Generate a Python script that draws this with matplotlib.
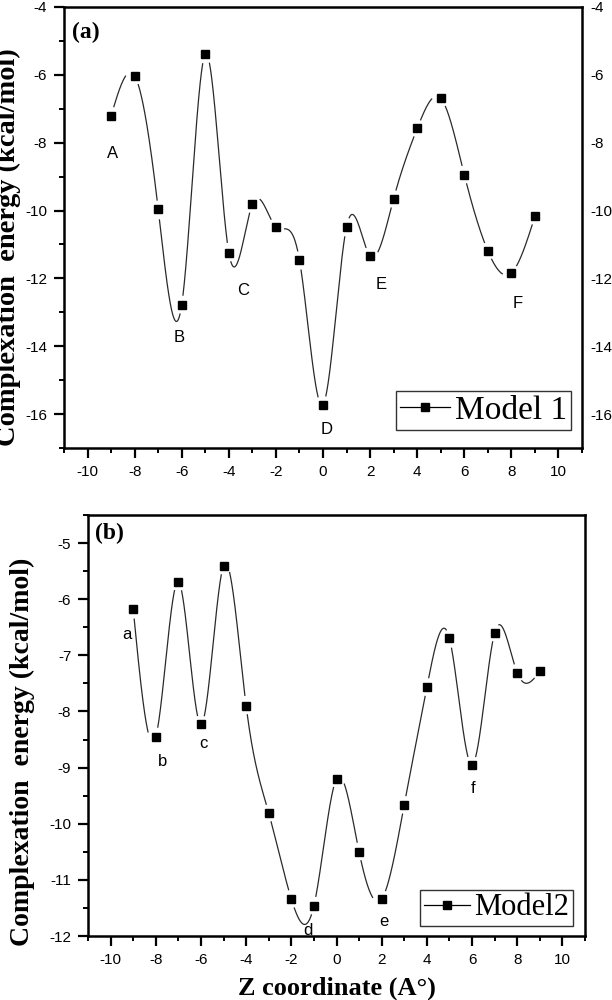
import numpy as np
import matplotlib
matplotlib.use("Agg")
import matplotlib.pyplot as plt
from matplotlib import font_manager
from matplotlib.ticker import MultipleLocator

# -----------------------------
# Data
# -----------------------------
z = [-9, -8, -7, -6, -5, -4, -3, -2, -1, 0, 1, 2, 3, 4, 5, 6, 7, 8, 9]

model1 = [-7.21, -6.03, -9.96, -12.77, -5.39, -11.24, -9.81, -10.48, -11.46,
          -15.72, -10.48, -11.34, -9.65, -7.58, -6.69, -8.94, -11.19, -11.84, -10.17]

model2 = [-6.17, -8.45, -5.69, -8.23, -5.40, -7.90, -9.81, -11.34, -11.46,
          -9.20, -10.50, -11.34, -9.66, -7.57, -6.70, -8.95, -6.60, -7.31, -7.28]

labels1 = ["A", "B", "C", "D", "E", "F"]
label1_x = [-8.92, -6.09, -3.4, 0.17, 2.46, 8.26]
label1_y = [-8.32, -13.73, -12.35, -16.44, -12.17, -12.74]

labels2 = ["a", "b", "c", "d", "e", "f"]
label2_x = [-9.26, -7.70, -5.87, -1.28, 2.09, 6.06]
label2_y = [-6.63, -8.89, -8.57, -11.90, -11.75, -9.38]

SERIF = "Liberation Serif"

_installed = {f.name for f in font_manager.fontManager.ttflist}
SANS = [f for f in ["Liberation Sans Narrow", "DejaVu Sans Condensed",
                    "Liberation Sans", "DejaVu Sans"] if f in _installed]

plt.rcParams["axes.unicode_minus"] = False


def natural_spline(x, y, xs):
    """Natural cubic spline through (x, y), evaluated at xs."""
    x = np.asarray(x, float)
    y = np.asarray(y, float)
    n = len(x)
    h = np.diff(x)
    A = np.zeros((n, n))
    b = np.zeros(n)
    A[0, 0] = A[-1, -1] = 1.0
    for i in range(1, n - 1):
        A[i, i - 1] = h[i - 1]
        A[i, i] = 2 * (h[i - 1] + h[i])
        A[i, i + 1] = h[i]
        b[i] = 6 * ((y[i + 1] - y[i]) / h[i] - (y[i] - y[i - 1]) / h[i - 1])
    M = np.linalg.solve(A, b)
    idx = np.clip(np.searchsorted(x, xs) - 1, 0, n - 2)
    x0, x1 = x[idx], x[idx + 1]
    hh = x1 - x0
    t0, t1 = x1 - xs, xs - x0
    return (M[idx] * t0 ** 3 / (6 * hh) + M[idx + 1] * t1 ** 3 / (6 * hh)
            + (y[idx] / hh - M[idx] * hh / 6) * t0
            + (y[idx + 1] / hh - M[idx + 1] * hh / 6) * t1)


def spline_with_gaps(ax, x, y, gap_px=9.0):
    """Draw spline line, leaving a gap round each symbol (Origin style)."""
    xs = np.linspace(min(x), max(x), 2000)
    ys = natural_spline(x, y, xs)
    curve = ax.transData.transform(np.column_stack([xs, ys]))
    pts = ax.transData.transform(np.column_stack([x, y]))
    d = np.min(np.hypot(curve[:, None, 0] - pts[None, :, 0],
                        curve[:, None, 1] - pts[None, :, 1]), axis=1)
    ys = np.where(d < gap_px, np.nan, ys)
    ax.plot(xs, ys, color="#2a2a2a", lw=0.9)


def style_axis(ax, ylim, ymajor, yminor):
    ax.set_xlim(-11, 11)
    ax.set_ylim(*ylim)
    ax.xaxis.set_major_locator(MultipleLocator(2))
    ax.xaxis.set_minor_locator(MultipleLocator(1))
    ax.yaxis.set_major_locator(MultipleLocator(ymajor))
    ax.yaxis.set_minor_locator(MultipleLocator(yminor))
    ax.tick_params(which="major", direction="out", length=7, width=1.6,
                   labelsize=11, pad=5, top=False, right=False)
    ax.tick_params(which="minor", direction="out", length=3.5, width=1.4,
                   top=False, right=False)
    for lab in ax.get_xticklabels() + ax.get_yticklabels():
        lab.set_family(SANS)
    for sp in ax.spines.values():
        sp.set_linewidth(1.8)


def draw_panel(ax, y, labels, lx, ly, tag, tag_y, legend_name, legend_anchor,
               legend_size):
    ax.plot(z, y, "s", color="black", ms=5.8, zorder=3)
    spline_with_gaps(ax, z, y)
    for t, xx, yy in zip(labels, lx, ly):
        ax.text(xx, yy, t, ha="center", va="center", fontsize=12, family=SANS)
    ax.text(0.015, tag_y, tag, transform=ax.transAxes, ha="left", va="center",
            fontsize=17, fontweight="bold", family=SERIF)
    handle = plt.Line2D([], [], color="black", lw=0.9, marker="s", ms=5.8)
    leg = ax.legend([handle], [legend_name], loc="lower left",
                    bbox_to_anchor=legend_anchor, frameon=True, fancybox=False,
                    handlelength=1.5, handletextpad=0.15, borderpad=0.12,
                    borderaxespad=0, prop={"family": SERIF, "size": legend_size})
    leg.get_frame().set_edgecolor("black")
    leg.get_frame().set_linewidth(1.0)


def main() -> None:
    fig = plt.figure(figsize=(6.12, 10.0), dpi=100)

    # Panel (a)
    ax1 = fig.add_axes([0.1046, 0.552, 0.8464, 0.441])
    style_axis(ax1, (-17, -4), 2, 1)
    draw_panel(ax1, model1, labels1, label1_x, label1_y, "(a)", 0.943,
               "Model 1", (0.64, 0.041), 24)
    ax1.set_ylabel("Complexation  energy (kcal/mol)", family=SERIF,
                   fontweight="bold", fontsize=20.5)
    ax1.yaxis.set_label_coords(-0.084, 0.456)

    # right-hand tick labels only (no tick marks)
    ax1r = ax1.twinx()
    ax1r.set_ylim(ax1.get_ylim())
    ax1r.yaxis.set_major_locator(MultipleLocator(2))
    ax1r.tick_params(axis="y", length=0, pad=6, labelsize=11)
    for lab in ax1r.get_yticklabels():
        lab.set_family(SANS)
    for sp in ax1r.spines.values():
        sp.set_visible(False)

    # Panel (b)
    ax2 = fig.add_axes([0.1438, 0.064, 0.8121, 0.421])
    style_axis(ax2, (-12, -4.5), 1, 0.5)
    draw_panel(ax2, model2, labels2, label2_x, label2_y, "(b)", 0.957,
               "Model2", (0.668, 0.024), 22)
    ax2.set_ylabel("Complexation  energy (kcal/mol)", family=SERIF,
                   fontweight="bold", fontsize=20)
    ax2.yaxis.set_label_coords(-0.107, 0.437)
    ax2.set_xlabel("Z coordinate (A\u00b0)", family=SERIF, fontweight="bold",
                   fontsize=19)
    ax2.xaxis.set_label_coords(0.5, -0.097)

    fig.savefig("out.png", dpi=100)
    plt.close(fig)


if __name__ == "__main__":
    main()
